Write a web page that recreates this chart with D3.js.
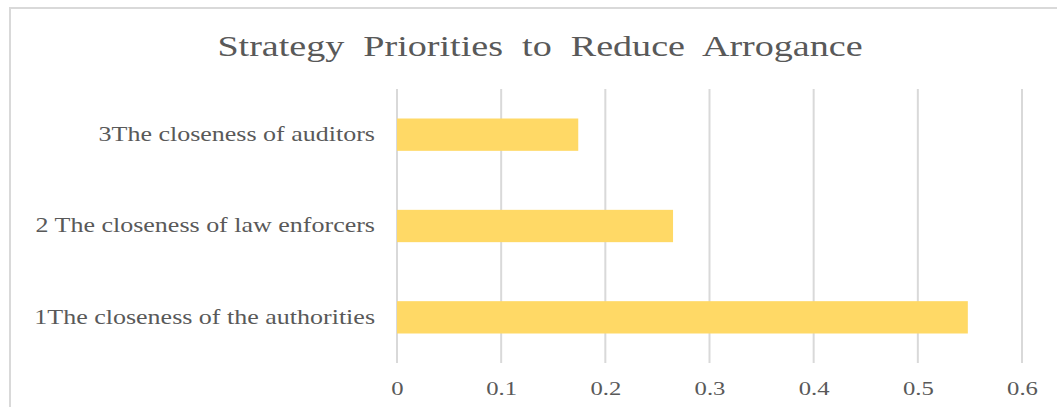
<!DOCTYPE html>
<html>
<head>
<meta charset="utf-8">
<script src="https://cdn.jsdelivr.net/npm/d3@7"></script>
<style>
  html, body { margin: 0; padding: 0; background: #fff; }
  svg { display: block; }
  text { font-family: "Liberation Serif", "Times New Roman", serif; fill: #595959; }
</style>
</head>
<body>
<svg id="chart" width="1057" height="407"></svg>
<script>
// Strategy priorities (weights) for reducing arrogance
const categories = [
  "3The closeness of auditors",
  "2 The closeness of law enforcers",
  "1The closeness of the authorities"
];
const values = [0.174, 0.265, 0.548];
const tickValues = [0, 0.1, 0.2, 0.3, 0.4, 0.5, 0.6];
const title = "Strategy  Priorities  to  Reduce  Arrogance";

const svg = d3.select("#chart");
const W = 1057, H = 407;
const margin = { left: 397, right: 35, top: 89, bottom: 44 };
// Text is drawn horizontally widened
const sx = 1.3;

// Chart frame
svg.append("path")
  .attr("d", `M10,${H} V8 H${W}`)
  .attr("fill", "none")
  .attr("stroke", "#d9d9d9")
  .attr("stroke-width", 2);

const x = d3.scaleLinear()
  .domain([0, 0.6])
  .range([margin.left, W - margin.right]);

const y = d3.scaleBand()
  .domain(categories)
  .range([margin.top, H - margin.bottom])
  .paddingInner(0.646)
  .paddingOuter(0.323);

// Vertical gridlines
svg.append("g")
  .selectAll("line")
  .data(tickValues)
  .join("line")
  .attr("x1", d => x(d)).attr("x2", d => x(d))
  .attr("y1", margin.top).attr("y2", H - margin.bottom)
  .attr("stroke", "#d9d9d9")
  .attr("stroke-width", 2);

// Bars
svg.append("g")
  .selectAll("rect")
  .data(categories.map((c, i) => ({ c, v: values[i] })))
  .join("rect")
  .attr("x", x(0))
  .attr("y", d => y(d.c))
  .attr("width", d => x(d.v) - x(0))
  .attr("height", y.bandwidth())
  .attr("fill", "#ffd966");

// Bottom axis labels
const xAxis = d3.axisBottom(x)
  .tickValues(tickValues)
  .tickFormat(d => d === 0 ? "0" : d3.format(".1f")(d))
  .tickSize(0)
  .tickPadding(0);
const gx = svg.append("g")
  .attr("transform", `translate(0,${H - margin.bottom})`)
  .call(xAxis);
gx.select(".domain").remove();
gx.selectAll("text")
  .attr("dy", null)
  .attr("y", 32)
  .attr("transform", `scale(${sx},1)`)
  .style("font-family", "'Liberation Serif', 'Times New Roman', serif")
  .style("font-size", "19px")
  .attr("fill", "#595959");

// Category labels
const pad = 22;
const yAxis = d3.axisLeft(y).tickSize(0).tickPadding(pad);
const gy = svg.append("g")
  .attr("transform", `translate(${margin.left},0)`)
  .call(yAxis);
gy.select(".domain").remove();
gy.selectAll("text")
  .attr("x", -pad / sx)
  .attr("transform", `scale(${sx},1)`)
  .style("font-family", "'Liberation Serif', 'Times New Roman', serif")
  .style("font-size", "20px")
  .attr("fill", "#595959");

// Title
svg.append("text")
  .attr("transform", `translate(540,56) scale(1.27,1)`)
  .attr("text-anchor", "middle")
  .style("font-size", "30px")
  .style("white-space", "pre")
  .attr("fill", "#595959")
  .text(title);
</script>
</body>
</html>
